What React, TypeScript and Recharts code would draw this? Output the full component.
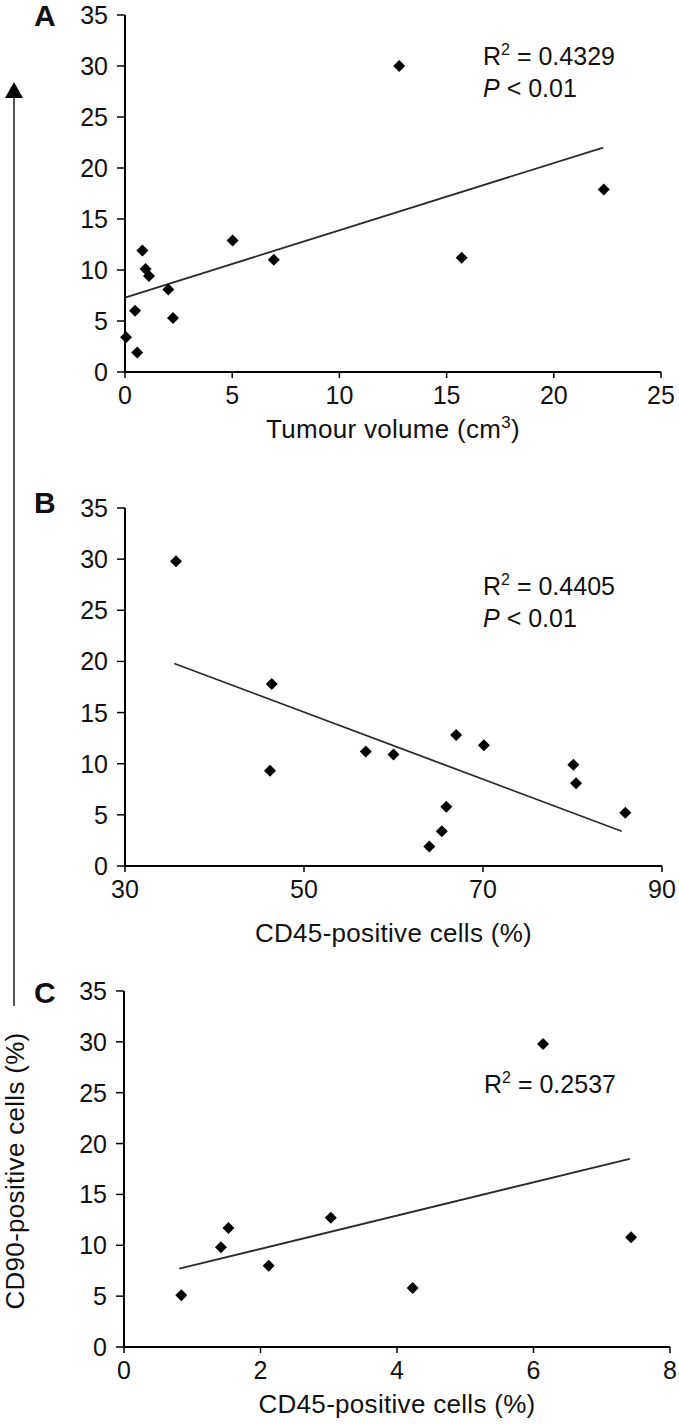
import React from 'react';
import { ScatterChart, Scatter, XAxis, YAxis, ReferenceLine, Label } from 'recharts';

const FONT = '"Liberation Sans", Arial, Helvetica, sans-serif';

// y axis shared by all three panels: CD90-positive cells (%)
const yTicks = [0, 5, 10, 15, 20, 25, 30, 35];

// A - tumour volume (cm3)
const volumeX = [0.05, 0.57, 0.47, 0.81, 0.96, 1.12, 2.02, 2.24, 5.02, 6.94, 12.79, 15.7, 22.33];
const volumeY = [3.4, 1.9, 6.0, 11.9, 10.1, 9.4, 8.1, 5.3, 12.9, 11.0, 30.0, 11.2, 17.9];
const volumeFit = [[0, 7.3], [22.3, 22.0]];
const volumeTicks = [0, 5, 10, 15, 20, 25];

// B - CD45-positive cells (%)
const cd45X = [35.7, 46.4, 46.2, 56.9, 60.0, 67.0, 70.1, 80.1, 80.4, 85.9, 65.9, 65.4, 64.0];
const cd45Y = [29.8, 17.8, 9.3, 11.2, 10.9, 12.8, 11.8, 9.9, 8.1, 5.2, 5.8, 3.4, 1.9];
const cd45Fit = [[35.5, 19.8], [85.5, 3.4]];
const cd45Ticks = [30, 50, 70, 90];

// C - CD45-positive cells (%), low range
const cd45LowX = [0.84, 1.42, 1.53, 2.12, 3.03, 4.23, 6.14, 7.43];
const cd45LowY = [5.1, 9.8, 11.7, 8.0, 12.7, 5.8, 29.8, 10.8];
const cd45LowFit = [[0.81, 7.7], [7.41, 18.5]];
const cd45LowTicks = [0, 2, 4, 6, 8];

const Diamond = (props: any) => {
  const { cx, cy } = props;
  const r = 6;
  return (
    <polygon
      points={`${cx},${cy - r} ${cx + r},${cy} ${cx},${cy + r} ${cx - r},${cy}`}
      fill="#000"
    />
  );
};

const XTick = (p: any) => (
  <text x={p.x} y={p.y} dy={18} textAnchor="middle" fontSize={25} fontFamily={FONT} fill="#111">
    {p.payload.value}
  </text>
);

const YTick = (p: any) => (
  <text x={p.x} y={p.y} dy={9} textAnchor="end" fontSize={25} fontFamily={FONT} fill="#111">
    {p.payload.value}
  </text>
);

type PanelProps = {
  xs: number[];
  ys: number[];
  fit: number[][];
  xTicks: number[];
  plotTop: number;
  plotBottom: number;
  plotLeft: number;
  plotRight: number;
  xLabel: string;
  sup?: string;
  labelGap: number;
};

const Panel = ({ xs, ys, fit, xTicks, plotTop, plotBottom, plotLeft, plotRight, xLabel, sup, labelGap }: PanelProps) => {
  const data = xs.map((x, i) => ({ x, y: ys[i] }));
  const height = plotBottom - plotTop + 30 + 100;
  const axisTitle = (p: any) => {
    const vb = p.viewBox || {};
    const cx = vb.x + vb.width / 2;
    const y = vb.y + labelGap;
    return (
      <text x={cx} y={y} textAnchor="middle" fontSize={26} fontFamily={FONT} fill="#111" letterSpacing={0.3}>
        {xLabel}
        {sup && (
          <>
            <tspan dy={-10} fontSize={17}>{sup}</tspan>
            <tspan dy={10}>)</tspan>
          </>
        )}
      </text>
    );
  };
  return (
    <div style={{ position: 'absolute', left: 0, top: plotTop - 30 }}>
      <ScatterChart
        width={679}
        height={height}
        margin={{ top: 30, right: 679 - plotRight, bottom: 10, left: plotLeft - 60 }}
      >
        <XAxis
          type="number"
          dataKey="x"
          domain={[xTicks[0], xTicks[xTicks.length - 1]]}
          ticks={xTicks}
          interval={0}
          height={90}
          tickSize={6}
          tickMargin={8}
          axisLine={{ stroke: '#000', strokeWidth: 2 }}
          tickLine={{ stroke: '#000', strokeWidth: 1.5 }}
          tick={<XTick />}
        >
          <Label content={axisTitle} />
        </XAxis>
        <YAxis
          type="number"
          dataKey="y"
          domain={[0, 35]}
          ticks={yTicks}
          interval={0}
          width={60}
          tickSize={8}
          tickMargin={9}
          axisLine={{ stroke: '#000', strokeWidth: 2 }}
          tickLine={{ stroke: '#000', strokeWidth: 1.5 }}
          tick={<YTick />}
        />
        <ReferenceLine
          segment={[{ x: fit[0][0], y: fit[0][1] }, { x: fit[1][0], y: fit[1][1] }]}
          stroke="#2a2a2a"
          strokeWidth={1.8}
          ifOverflow="visible"
        />
        <Scatter data={data} shape={<Diamond />} isAnimationActive={false} />
      </ScatterChart>
    </div>
  );
};

const txt = { fontFamily: FONT, fontSize: 25, fill: '#111' };

const Stat = ({ x, y, r2, p }: { x: number; y: number; r2: string; p?: boolean }) => (
  <g>
    <text x={x} y={y} {...txt}>
      R<tspan dy={-10} fontSize={16}>2</tspan>
      <tspan dy={10}> = {r2}</tspan>
    </text>
    {p && (
      <text x={x} y={y + 32} {...txt}>
        <tspan fontStyle="italic">P</tspan> &lt; 0.01
      </text>
    )}
  </g>
);

const letter = { fontFamily: FONT, fontSize: 30, fontWeight: 'bold' as const, fill: '#111' };

export default function App() {
  return (
    <div style={{ position: 'absolute', left: 0, top: 0, width: 679, height: 1424, background: '#fff', fontFamily: FONT }}>
      <Panel
        xs={volumeX}
        ys={volumeY}
        fit={volumeFit}
        xTicks={volumeTicks}
        plotTop={15}
        plotBottom={372}
        plotLeft={125}
        plotRight={661}
        xLabel="Tumour volume (cm"
        sup="3"
        labelGap={66}
      />
      <Panel
        xs={cd45X}
        ys={cd45Y}
        fit={cd45Fit}
        xTicks={cd45Ticks}
        plotTop={508}
        plotBottom={866}
        plotLeft={125}
        plotRight={662}
        xLabel="CD45-positive cells (%)"
        labelGap={76}
      />
      <Panel
        xs={cd45LowX}
        ys={cd45LowY}
        fit={cd45LowFit}
        xTicks={cd45LowTicks}
        plotTop={991}
        plotBottom={1347}
        plotLeft={124}
        plotRight={670}
        xLabel="CD45-positive cells (%)"
        labelGap={66}
      />
      <svg
        width={679}
        height={1424}
        style={{ position: 'absolute', left: 0, top: 0, pointerEvents: 'none' }}
      >
        <text x={34} y={26} {...letter}>A</text>
        <text x={34} y={513} {...letter}>B</text>
        <text x={34} y={1003} {...letter}>C</text>

        <Stat x={483} y={65} r2="0.4329" p />
        <Stat x={483} y={595} r2="0.4405" p />
        <Stat x={484} y={1093} r2="0.2537" />

        <line x1={14} y1={96} x2={14} y2={1006} stroke="#444" strokeWidth={1.8} />
        <polygon points="14,82 5,98 23,98" fill="#000" />
        <text
          x={0}
          y={0}
          transform="translate(24 1171) rotate(-90)"
          textAnchor="middle"
          fontFamily={FONT}
          fontSize={26}
          fill="#111"
          letterSpacing={0.3}
        >
          CD90-positive cells (%)
        </text>
      </svg>
    </div>
  );
}
